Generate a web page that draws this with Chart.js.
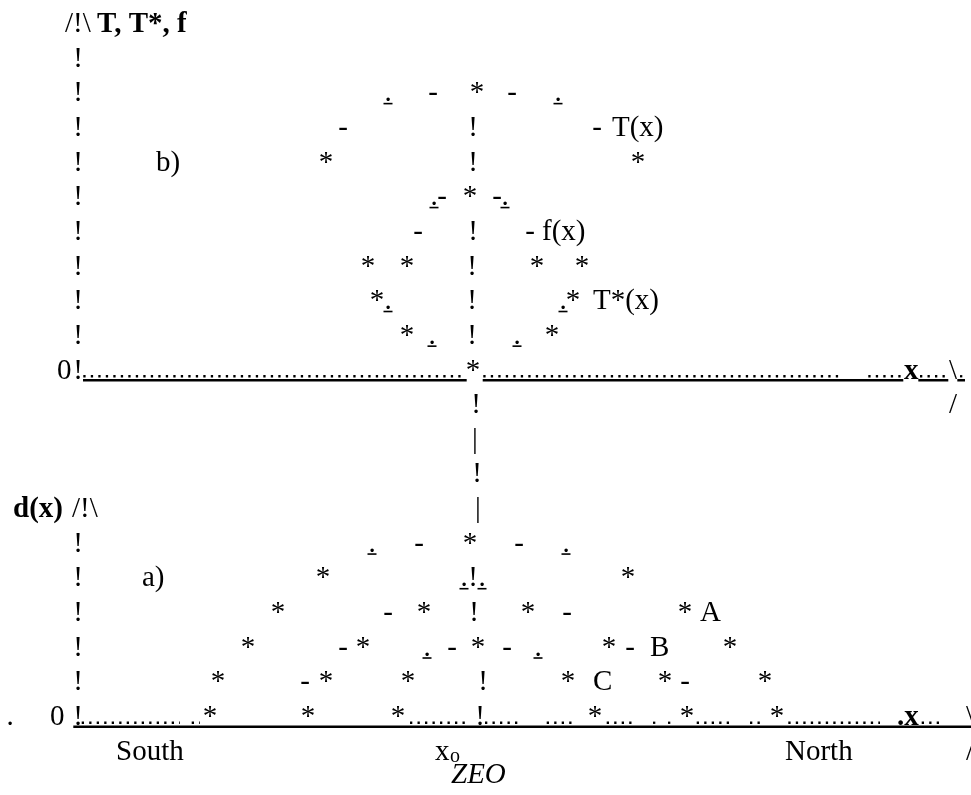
<!DOCTYPE html>
<html>
<head>
<meta charset="utf-8">
<title>d(x) and T, T*, f sketch</title>
<script src="https://cdn.jsdelivr.net/npm/chart.js@4.4.1/dist/chart.umd.min.js"></script>
<style>
  html, body { margin: 0; padding: 0; background: #fff; }
  #chart { display: block; }
</style>
</head>
<body>
<canvas id="chart" width="971" height="795"></canvas>
<script>
// x: distance from x0 (ZEO centre), y: text line counted from the top of the sketch
const xMin = -47.3, xMax = 49.8;
const lineMin = -0.924, lineMax = 22.02;

// panel b) T(x)
const tX    = [-14.7, -13.0, -8.5, -4.0, 0.4, 3.9, 8.5, 12.4, 16.5];
const tLine = [4, 3, 2, 2, 2, 2, 2, 3, 4];
const tMark = ['*', '-', '_.', '-', '*', '-', '_.', '-', '*'];

// panel b) f(x)
const fX    = [-3.9, -3.1, -0.3, 2.4, 3.2, -5.5, 5.7, -10.5, 10.9, -9.6, 10.0, -6.6, 7.9];
const fLine = [5, 5, 5, 5, 5, 6, 6, 7, 7, 8, 8, 9, 9];
const fMark = ['_.', '-', '*', '-', '_.', '-', '-', '*', '*', '*', '*', '*', '*'];

// panel b) T*(x)
const tsX    = [-6.6, 6.4, -8.5, 9.0, -4.1, 4.4, 0.0];
const tsLine = [7, 7, 8, 8, 9, 9, 10];
const tsMark = ['*', '*', '_.', '_.', '_.', '_.', '*'];

// panel a) curve A
const aX    = [-10.1, -5.4, -0.3, 4.6, 9.3, -15.0, 15.5, -19.5, 21.2, -22.5, 25.7, -25.5, 29.2, -26.3, 30.4];
const aLine = [15, 15, 15, 15, 15, 16, 16, 17, 17, 18, 18, 19, 19, 20, 20];
const aMark = ['_.', '-', '*', '-', '_.', '*', '*', '*', '*', '*', '*', '*', '*', '*', '*'];

// panel a) curve B
const bX    = [-0.9, 0.9, -8.5, -4.9, 5.5, 9.4, -13.0, -11.0, 13.6, 15.7, -16.8, -14.7, 19.2, 21.2, -16.5, 21.4];
const bLine = [16, 16, 17, 17, 17, 17, 18, 18, 18, 18, 19, 19, 19, 19, 20, 20];
const bMark = ['_.', '_.', '-', '*', '*', '-', '-', '*', '*', '-', '-', '*', '*', '-', '*', '*'];

// panel a) curve C
const cX    = [-4.6, -2.1, 0.5, 3.4, 6.5, -6.5, 9.5, -7.5, 12.2];
const cLine = [18, 18, 18, 18, 18, 19, 19, 20, 20];
const cMark = ['_.', '-', '*', '-', '_.', '*', '*', '*', '*'];

// axis characters: "!" columns, connector, arrow heads
const axisX    = [-39.5, -39.5, -39.5, -39.5, -39.5, -39.5, -39.5, -39.5, -39.5, -39.5,
                  0.0, 0.0, 0.0, -0.1, -0.1, -0.1,
                  0.3, 0.2, 0.4, 0.5, 48.0, 48.0,
                  -39.5, -39.5, -39.5, -39.5, -39.5, -39.5,
                  0.0, 0.1, 1.0, 0.7, 49.7, 49.7, -46.3];
const axisLine = [1, 2, 3, 4, 5, 6, 7, 8, 9, 10,
                  3, 4, 6, 7, 8, 9,
                  11, 12, 13, 14, 10, 11,
                  15, 16, 17, 18, 19, 20,
                  16, 17, 19, 20, 20, 21, 20];
const axisMark = ['!', '!', '!', '!', '!', '!', '!', '!', '!', '!',
                  '!', '!', '!', '!', '!', '!',
                  '!', '|', '!', '|', '\\', '/',
                  '!', '!', '!', '!', '!', '!',
                  '!', '!', '!', '!', '\\', '/', '.'];

// text labels
const labelText = ['/!\\', 'b)', 'T(x)', 'f(x)', 'T*(x)', '0', '/!\\', 'a)', 'A', 'B', 'C', '0', 'South', 'x', 'North'];
const labelX    = [-40.8, -31.7, 13.9, 6.9, 12.0, -41.6, -40.1, -33.1, 22.7, 17.7, 12.0, -42.3, -35.7, -3.8, 31.2];
const labelLine = [0, 4, 3, 6, 8, 10, 14, 16, 17, 18, 19, 20, 21, 21, 21];
const boldText  = ['T, T*, f', 'd(x)', 'x', '.x'];
const boldX     = [-37.6, -46.0, 43.1, 42.4];
const boldLine  = [0, 14, 10, 20];
const italicText = ['ZEO'];
const italicX    = [-2.2];
const italicLine = [21.67];
const subText = ['o'];
const subX    = [-2.3];
const subLine = [21.08];

// x axis rows: underline runs and dotted runs [from, to]
const topAxisLine = 10;
const topUnderline = [[-39.0, -0.63], [0.97, 43.03], [44.53, 47.53], [48.43, 49.2]];
const topDots = [[-38.97, -0.73], [1.03, 36.7], [39.53, 42.87], [44.7, 47.37], [48.7, 49.03]];
const bottomAxisLine = 20;
const bottomUnderline = [[-39.97, 49.8]];
const bottomDots = [[-39.13, -29.3], [-28.13, -27.3], [-6.3, -0.8], [1.2, 4.53], [7.37, 10.03],
                    [13.37, 15.87], [18.0, 18.3], [19.5, 19.8], [22.37, 25.7], [27.7, 29.2],
                    [31.53, 40.7], [44.87, 46.7]];

const FONT = "'Liberation Serif', 'Times New Roman', serif";
const underDrop = 0.05;
const dotRise = -0.065;

function glyphSet(xs, lines, marks, font, align) {
  return {
    data: xs.map((x, i) => ({ x, y: lines[i] })),
    glyphs: marks,
    glyphFont: font,
    glyphAlign: align,
    showLine: false,
    pointRadius: 0
  };
}

function runSets(runs, line, dashed) {
  return runs.map(r => ({
    data: [{ x: r[0], y: line }, { x: r[1], y: line }],
    showLine: true,
    borderColor: '#000',
    borderWidth: dashed ? 2.3 : 2.5,
    borderDash: dashed ? [2.3, 5.2] : [],
    borderCapStyle: 'butt',
    pointRadius: 0
  }));
}

// draw each point as a text character
const glyphPlugin = {
  id: 'glyphs',
  afterDatasetsDraw(chart) {
    const ctx = chart.ctx;
    chart.data.datasets.forEach((ds, i) => {
      if (!ds.glyphs) return;
      const points = chart.getDatasetMeta(i).data;
      ctx.save();
      ctx.fillStyle = '#000';
      ctx.font = ds.glyphFont;
      ctx.textAlign = ds.glyphAlign;
      ctx.textBaseline = 'alphabetic';
      points.forEach((pt, j) => {
        let s = ds.glyphs[j];
        const under = s.length > 1 && s[0] === '_';
        if (under) s = s.slice(1);
        ctx.fillText(s, pt.x, pt.y);
        if (under) ctx.fillRect(pt.x - 4.5, pt.y + 1.5, 9, 1.6);
      });
      ctx.restore();
    });
  }
};

const normal = '29px ' + FONT;
const datasets = [
  ...runSets(topUnderline, topAxisLine + underDrop, false),
  ...runSets(topDots, topAxisLine + dotRise, true),
  ...runSets(bottomUnderline, bottomAxisLine + underDrop, false),
  ...runSets(bottomDots, bottomAxisLine + dotRise, true),
  glyphSet(tX, tLine, tMark, normal, 'center'),
  glyphSet(fX, fLine, fMark, normal, 'center'),
  glyphSet(tsX, tsLine, tsMark, normal, 'center'),
  glyphSet(aX, aLine, aMark, normal, 'center'),
  glyphSet(bX, bLine, bMark, normal, 'center'),
  glyphSet(cX, cLine, cMark, normal, 'center'),
  glyphSet(axisX, axisLine, axisMark, normal, 'center'),
  glyphSet(labelX, labelLine, labelText, normal, 'left'),
  glyphSet(boldX, boldLine, boldText, 'bold 29px ' + FONT, 'left'),
  glyphSet(italicX, italicLine, italicText, 'italic 29px ' + FONT, 'left'),
  glyphSet(subX, subLine, subText, '20px ' + FONT, 'left')
];

new Chart(document.getElementById('chart'), {
  type: 'scatter',
  data: { datasets },
  options: {
    responsive: false,
    devicePixelRatio: 1,
    animation: false,
    events: [],
    layout: { padding: 0 },
    plugins: { legend: { display: false }, tooltip: { enabled: false } },
    scales: {
      x: { type: 'linear', display: false, min: xMin, max: xMax },
      y: { type: 'linear', display: false, min: lineMin, max: lineMax, reverse: true }
    }
  },
  plugins: [glyphPlugin]
});
</script>
</body>
</html>
